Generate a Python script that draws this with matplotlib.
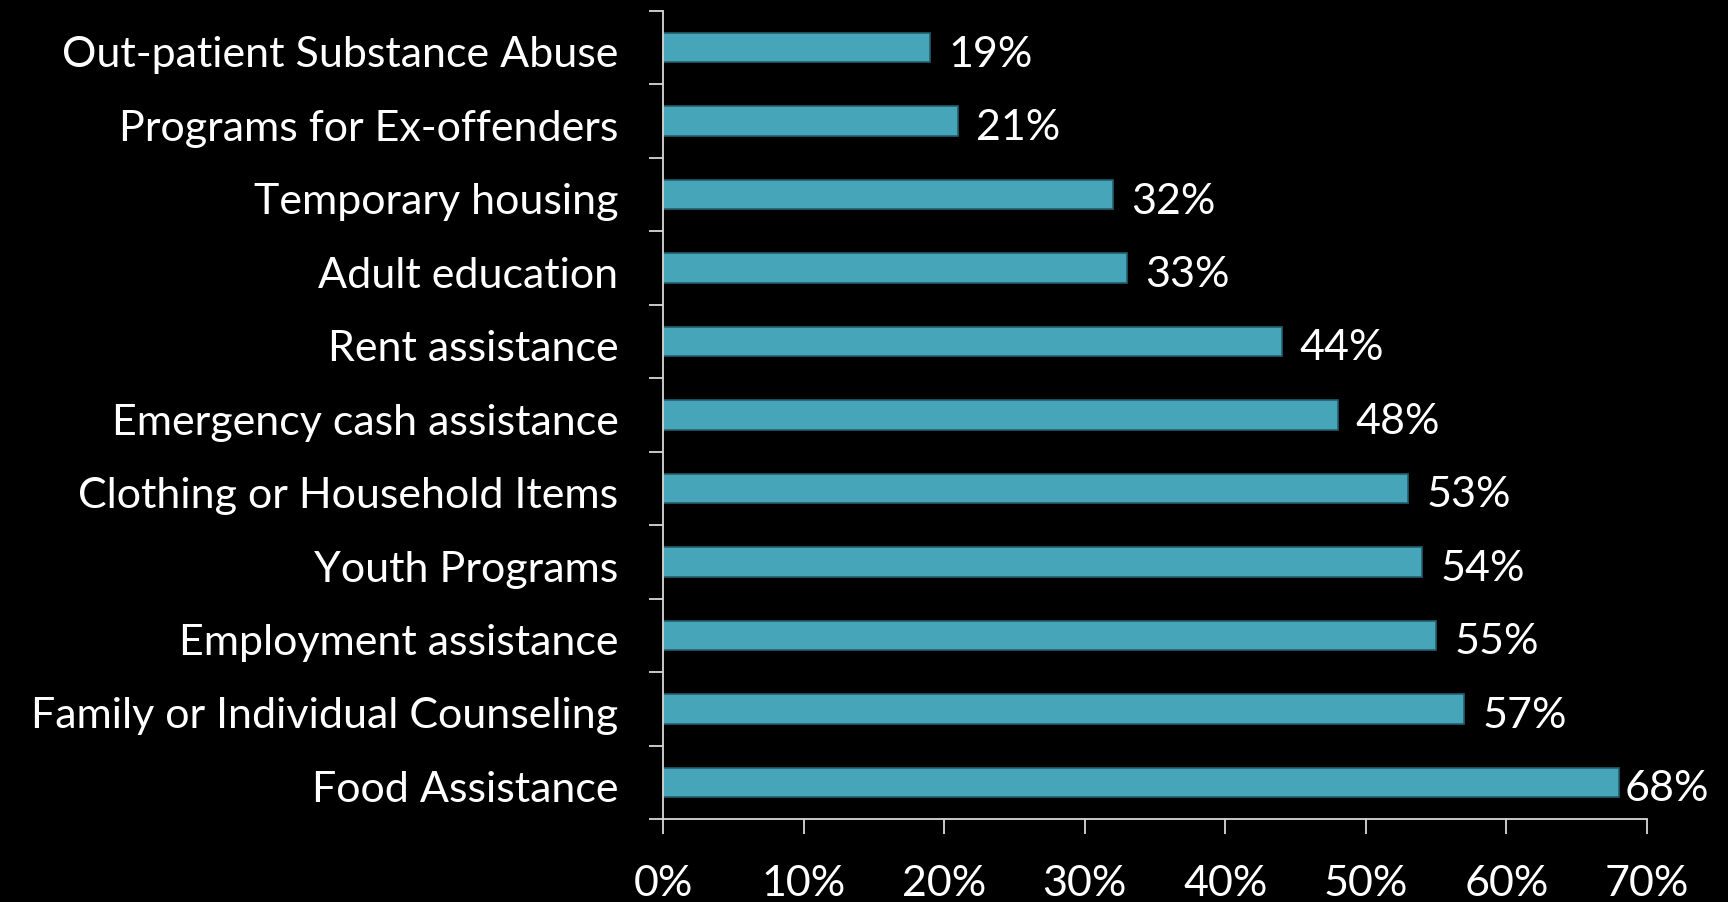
import numpy as np
import matplotlib
matplotlib.use("Agg")
from matplotlib import pyplot as plt
from matplotlib.ticker import FixedLocator, PercentFormatter
from matplotlib.transforms import ScaledTranslation

plt.rcParams['font.family'] = ['Lato', 'DejaVu Sans']

services = ["Out-patient Substance Abuse", "Programs for Ex-offenders",
            "Temporary housing", "Adult education", "Rent assistance",
            "Emergency cash assistance", "Clothing or Household Items",
            "Youth Programs", "Employment assistance",
            "Family or Individual Counseling", "Food Assistance"]
percent = [19, 21, 32, 33, 44, 48, 53, 54, 55, 57, 68]
x_ticks = [0, 10, 20, 30, 40, 50, 60, 70]

bar_color = "#46a5b9"
edge_color = "#24606e"
axis_color = "#d9d9d9"
font_size = 31

fig = plt.figure(figsize=[17.28, 9.02], dpi=100, facecolor="black")
ax = fig.add_axes([663 / 1728, 1 - 819 / 902, 984 / 1728, 808 / 902])
ax.set_facecolor("black")

y = np.arange(len(services))
ax.barh(y, percent, height=0.4, color=bar_color, edgecolor=edge_color, linewidth=1.2)

ax.set_xlim(0, 70)
ax.set_ylim(len(services) - 0.5, -0.5)

# value labels next to each bar; the longest one hugs the bar end
for yi, v in zip(y, percent):
    pad = 4 if v > 65 else 13
    ax.annotate(f"{v}%", xy=(v, yi), xytext=(pad, -5), textcoords="offset points",
                va="center", ha="left", color="white", fontsize=font_size)

ax.set_yticks(y)
ax.set_yticklabels(services)
ax.yaxis.set_minor_locator(FixedLocator(np.arange(-0.5, len(services), 1.0)))
ax.tick_params(axis="y", which="major", length=0, pad=32, labelsize=font_size, labelcolor="white")
ax.tick_params(axis="y", which="minor", length=10, width=1.3, color=axis_color, direction="out")

# nudge the category names down a little
shift = ScaledTranslation(0, -3 / 72, fig.dpi_scale_trans)
for lbl in ax.get_yticklabels():
    lbl.set_transform(lbl.get_transform() + shift)

ax.xaxis.set_major_locator(FixedLocator(x_ticks))
ax.xaxis.set_major_formatter(PercentFormatter(decimals=0))
ax.tick_params(axis="x", length=11, width=1.3, color=axis_color, pad=22,
               labelsize=font_size, labelcolor="white")

for side in ["top", "right"]:
    ax.spines[side].set_visible(False)
for side in ["left", "bottom"]:
    ax.spines[side].set_color(axis_color)
    ax.spines[side].set_linewidth(1.3)

plt.savefig("out.png", dpi=100, facecolor="black")
